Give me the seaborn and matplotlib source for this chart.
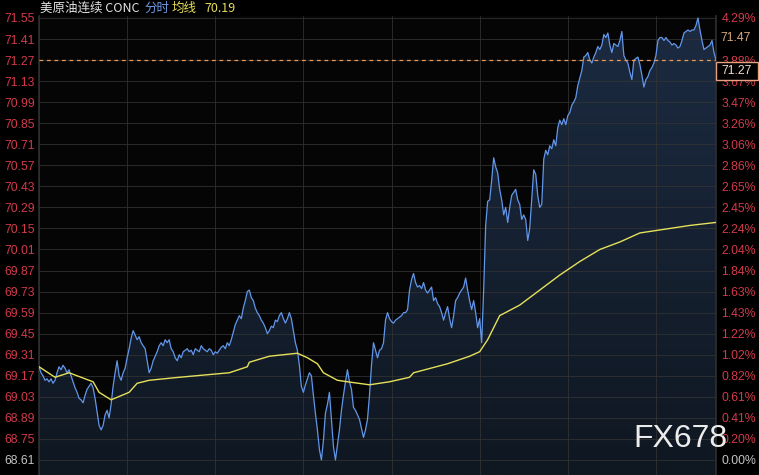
import numpy as np
import pandas as pd
import matplotlib
matplotlib.use('Agg')
import matplotlib.pyplot as plt
from matplotlib.patches import Rectangle
from matplotlib.colors import LinearSegmentedColormap
import seaborn as sns

# 美原油连续 CONC, intraday ticks (one sample every ~2 px)
price = [
    69.23, 69.19, 69.17, 69.14, 69.15, 69.13, 69.15, 69.12, 69.14, 69.19,
    69.23, 69.21, 69.24, 69.22, 69.19, 69.21, 69.17, 69.13, 69.09, 69.06,
    69.02, 69.01, 68.99, 69.04, 69.08, 69.10, 69.12, 69.09, 69.02, 68.93,
    68.84, 68.81, 68.84, 68.91, 68.94, 68.89, 68.98, 69.10, 69.19, 69.27,
    69.17, 69.14, 69.19, 69.22, 69.29, 69.35, 69.42, 69.47, 69.44, 69.41,
    69.43, 69.39, 69.37, 69.35, 69.27, 69.19, 69.22, 69.27, 69.30, 69.33,
    69.37, 69.39, 69.37, 69.41, 69.39, 69.41, 69.35, 69.33, 69.29, 69.27,
    69.31, 69.29, 69.33, 69.34, 69.35, 69.33, 69.34, 69.31, 69.35, 69.34,
    69.33, 69.37, 69.35, 69.34, 69.33, 69.35, 69.34, 69.31, 69.33, 69.32,
    69.34, 69.36, 69.37, 69.35, 69.39, 69.37, 69.41,
    69.46, 69.51, 69.54, 69.57, 69.55, 69.62, 69.67, 69.73, 69.74, 69.69,
    69.67, 69.62, 69.59, 69.57, 69.54, 69.52, 69.49, 69.45, 69.47, 69.50,
    69.49, 69.54, 69.53, 69.57, 69.59, 69.55, 69.52, 69.55, 69.59, 69.55,
    69.47, 69.39, 69.34, 69.24, 69.10, 69.06, 69.11, 69.15, 69.19, 69.17,
    69.04, 68.92, 68.81, 68.68, 68.61, 68.74, 68.92, 68.98, 69.06, 68.88,
    68.70, 68.61, 68.71, 68.81, 68.94, 69.04, 69.13, 69.21, 69.13, 69.08,
    68.96, 68.94, 68.91, 68.88, 68.82, 68.76, 68.81, 68.88, 69.04, 69.24,
    69.39, 69.34, 69.29, 69.34, 69.35, 69.39, 69.54, 69.59, 69.55, 69.53,
    69.52, 69.54, 69.55, 69.56, 69.57, 69.59, 69.59, 69.61, 69.74, 69.81,
    69.85, 69.79, 69.76, 69.77, 69.75, 69.79, 69.74, 69.72, 69.74, 69.76,
    69.67, 69.69, 69.65, 69.63, 69.59, 69.54, 69.59, 69.63, 69.55, 69.49,
    69.57, 69.67, 69.69, 69.72, 69.74, 69.76, 69.82, 69.74, 69.67, 69.61,
    69.67, 69.59, 69.49, 69.55, 69.39, 69.74, 70.17, 70.33, 70.34, 70.47,
    70.62, 70.56, 70.52, 70.41, 70.34, 70.24, 70.29, 70.19, 70.29, 70.37,
    70.39, 70.41, 70.34, 70.31, 70.21, 70.24, 70.21, 70.07, 70.15, 70.34,
    70.54, 70.51, 70.37, 70.29, 70.31, 70.61, 70.67, 70.64, 70.70, 70.68,
    70.74, 70.70,
    70.82, 70.87, 70.84, 70.88, 70.84, 70.90, 70.92, 70.97, 70.99, 71.02,
    71.10, 71.15, 71.20, 71.29, 71.30, 71.32, 71.27, 71.25, 71.29, 71.32,
    71.36, 71.34, 71.37, 71.44, 71.42, 71.45, 71.37, 71.32, 71.38, 71.37,
    71.36, 71.40, 71.46, 71.30, 71.27, 71.25, 71.19, 71.14, 71.27, 71.28,
    71.29, 71.24, 71.17, 71.09, 71.14, 71.16, 71.20, 71.22, 71.25, 71.30,
    71.40, 71.42, 71.42, 71.40, 71.42, 71.40, 71.39, 71.37, 71.38, 71.37,
    71.35, 71.36, 71.40, 71.45, 71.46, 71.47, 71.46, 71.47, 71.47, 71.50,
    71.55, 71.47, 71.40, 71.34, 71.35, 71.36, 71.37, 71.40, 71.32, 71.27,
]

# 均线 (average price), sampled where it bends
avg_idx = [0, 8, 15, 27, 30, 36, 45, 49, 55, 70, 95, 104, 105, 115, 129, 134,
           139, 142, 149, 154, 165, 175, 185, 187, 204, 215, 220, 224, 227, 230,
           240, 250, 260, 270, 280, 290, 300, 310, 325, 338]
avg_price = [69.23, 69.16, 69.19, 69.13, 69.06, 69.01, 69.06, 69.12, 69.14, 69.16,
             69.19, 69.23, 69.26, 69.30, 69.32, 69.29, 69.25, 69.19, 69.14, 69.13,
             69.11, 69.13, 69.16, 69.19, 69.25, 69.30, 69.33, 69.41, 69.49, 69.57,
             69.64, 69.74, 69.84, 69.93, 70.01, 70.06, 70.12, 70.14, 70.17, 70.19]

price_ticks = [68.61, 68.75, 68.89, 69.03, 69.17, 69.31, 69.45, 69.59, 69.73, 69.87,
               70.01, 70.15, 70.29, 70.43, 70.57, 70.71, 70.85, 70.99, 71.13, 71.27,
               71.41, 71.55]
pct_labels = ['0.00%', '0.20%', '0.41%', '0.61%', '0.82%', '1.02%', '1.22%', '1.43%',
              '1.63%', '1.84%', '2.04%', '2.24%', '2.45%', '2.65%', '2.86%', '3.06%',
              '3.26%', '3.47%', '3.67%', '3.88%', '4.08%', '4.29%']
last_price = 71.27
mark_price = '71.47'
avg_text = '70.19'

df = pd.DataFrame({'idx': np.arange(len(price)), 'price': price})
avg_df = pd.DataFrame({'idx': avg_idx, 'avg': avg_price})

sns.set_theme(style='dark', rc={'axes.facecolor': '#050505', 'figure.facecolor': 'black',
                                'axes.edgecolor': '#2e2e2e', 'grid.color': '#333333'})
plt.rcParams['font.family'] = ['Liberation Sans', 'DejaVu Sans']

W, H = 759, 475
ymin, ymax = 68.51, 71.563
red = '#d23a4a'
gray = '#c4c4c4'

fig = plt.figure(figsize=(W / 100, H / 100), dpi=100, facecolor='black')
ax = fig.add_axes([39 / W, 0, (716 - 39) / W, (H - 16) / H])

# gradient fill under the price line
fill = ax.fill_between(df['idx'], df['price'], ymin, color='none', lw=0)
grad = np.linspace(0, 1, 256).reshape(-1, 1)
cmap = LinearSegmentedColormap.from_list('navy', ['#1c2b42', '#0f1721'])
img = ax.imshow(grad, cmap=cmap, aspect='auto', zorder=1,
                extent=[0, len(price) - 1, ymin, ymax], origin='upper')
img.set_clip_path(fill.get_paths()[0], transform=ax.transData)

sns.lineplot(data=df, x='idx', y='price', ax=ax, color='#6296ea', linewidth=0.9, zorder=3)
sns.lineplot(data=avg_df, x='idx', y='avg', ax=ax, color='#e6e05a', linewidth=1.0, zorder=3)
ax.axhline(last_price, color='#e89a5c', ls=(0, (3, 3)), lw=0.9, zorder=4)

ax.set_xlim(0, len(price) - 1)
ax.set_ylim(ymin, ymax)
ax.set_xlabel('')
ax.set_ylabel('')
ax.set_xticks(np.arange(0, len(price), 44))
ax.set_yticks(price_ticks)
ax.set_yticklabels([f'{v:.2f}' for v in price_ticks], fontsize=8.8)
for lab in ax.get_yticklabels():
    lab.set_color(red)
ax.get_yticklabels()[0].set_color(gray)
ax.tick_params(axis='x', labelbottom=False, length=0)
ax.tick_params(axis='y', length=0, pad=3)
ax.set_axisbelow('line')
ax.grid(True, color='#333333', lw=0.7, alpha=0.8)
for s in ['top', 'bottom']:
    ax.spines[s].set_visible(False)
for s in ['left', 'right']:
    ax.spines[s].set_color('#2e2e2e')

ax2 = ax.twinx()
ax2.set_ylim(ymin, ymax)
ax2.set_yticks(price_ticks)
ax2.set_yticklabels(pct_labels, fontsize=8.8)
for lab in ax2.get_yticklabels():
    lab.set_color(red)
ax2.get_yticklabels()[0].set_color(gray)
# the 71.47 tag sits on top of the 4.08% label
ax2.get_yticklabels()[pct_labels.index('4.08%')].set_visible(False)
ax2.tick_params(axis='y', length=0, pad=4)
ax2.grid(False)
for s in ax2.spines.values():
    s.set_visible(False)

# header
cjk = ['Noto Sans CJK SC', 'DejaVu Sans']
ty = 1 - 8 / H
fig.text(40 / W, ty, '美原油连续 CONC', color='#e4e4e4', fontsize=9, family=cjk, va='center')
fig.text(144 / W, ty, '分时', color='#6e9be6', fontsize=9, family=cjk, va='center')
fig.text(172 / W, ty, '均线', color='#e6dc5a', fontsize=9, family=cjk, va='center')
fig.text(204 / W, ty, avg_text, color='#e6dc5a', fontsize=9, family=cjk, va='center')

# right-side price tags
fig.text(720 / W, 1 - 38 / H, mark_price, color='#d9a97c', fontsize=8.8, va='center', ha='left')
fig.patches.append(Rectangle((716 / W, 1 - 80 / H), 42 / W, 18 / H, transform=fig.transFigure,
                             fc='black', ec='#e8a080', lw=1))
fig.text(737 / W, 1 - 71 / H, f'{last_price:.2f}', color='#f2dccc', fontsize=8.8,
         va='center', ha='center')

# watermark
fig.text(680 / W, 1 - 439 / H, 'FX678', color='#ececec', fontsize=23, ha='center', va='center')

fig.savefig('out.png', dpi=100, facecolor='black')
